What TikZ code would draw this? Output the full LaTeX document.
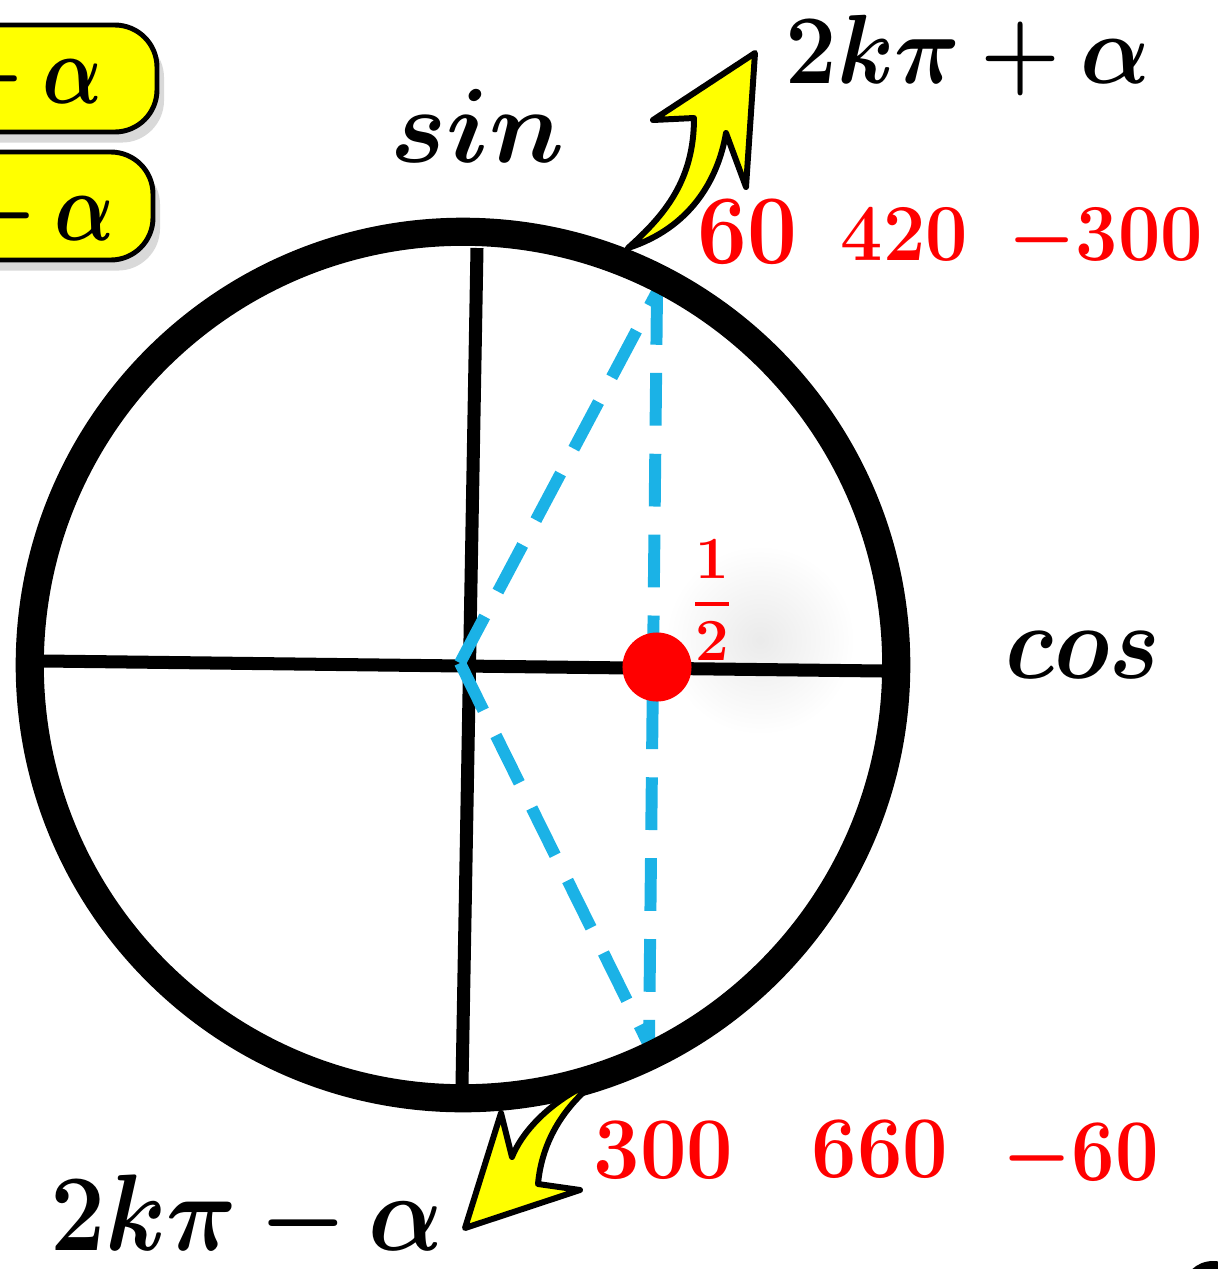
\RequirePackage{fix-cm}
\documentclass[tikz,border=0pt]{standalone}
\usepackage{amsmath}
\usepackage{bm}
\usepackage{graphicx}
\usetikzlibrary{shadows}
\definecolor{cyanline}{RGB}{27,178,230}
\definecolor{ylw}{RGB}{255,255,0}
\begin{document}
\begin{tikzpicture}[x=0.01cm,y=-0.01cm,
  axisline/.style={line width=3.7pt,black},
  ring/.style={line width=8pt,black},
  dashline/.style={line width=3.4pt,cyanline,dash pattern=on 15pt off 8pt},
  yarrow/.style={fill=ylw,draw=black,line width=1.7pt,line join=round},
  ybox/.style={fill=ylw,draw=black,line width=1.4pt,rounded corners=12pt,
    drop shadow={shadow xshift=2pt,shadow yshift=-3pt,opacity=0.15,fill=black}},
  mathlbl/.style={inner sep=0pt,text=black},
  rednum/.style={inner sep=0pt,text=red,anchor=base west}]
\useasboundingbox (0,0) rectangle (1217,1269);
% faint glow
\shade[inner color=black!8,outer color=white] (760,640) circle [radius=0.95cm];
% yellow boxes
\draw[ybox] (-80,25) rectangle (157,132);
\draw[ybox] (-80,152) rectangle (153,260);
\node[mathlbl,anchor=base east,font=\fontsize{28}{30}\selectfont] (boxa) at (103,103) {\scalebox{0.8}[1]{$\bm{{}-\alpha}$}};
\node[mathlbl,anchor=base east,font=\fontsize{28}{30}\selectfont] (boxb) at (115,240) {\scalebox{0.8}[1]{$\bm{{}-\alpha}$}};
% coordinates
\coordinate (O) at (463,665);
\coordinate (ytop) at (477,248);
\coordinate (ybot) at (462,1085);
\coordinate (xl) at (44,661);
\coordinate (xr) at (883,671);
\coordinate (V) at (460,663);
\coordinate (P) at (657,292);
\coordinate (Q) at (649,1045);
% axes
\draw[axisline] (xl) -- (xr);
\draw[axisline] (ytop) -- (ybot);
% blue dashed triangle
\draw[dashline] (V) -- (P);
\draw[dashline] (P) -- (Q);
\draw[dashline] (V) -- (Q);
% ring
\draw[ring] (O) circle [radius=4.33cm];
% red dot
\node[circle,fill=red,minimum size=0.69cm,inner sep=0pt] (dot) at (657,667) {};
\node[text=red,inner sep=0pt,font=\fontsize{17}{19}\selectfont] (half) at (712,600) {$\genfrac{}{}{1.1pt}{0}{\mathbf{1}}{\mathbf{2}}$};
% yellow arrows
\draw[yarrow] (628,248) .. controls (665,215) and (694,180) .. (694,118) -- (653,120) -- (755,53) -- (746,187) -- (726,133) .. controls (718,180) and (690,228) .. (628,248) -- cycle;
\draw[yarrow] (598,1080) .. controls (560,1095) and (525,1125) .. (512,1157) -- (501,1113) -- (465,1228) -- (580,1190) -- (538,1184) .. controls (542,1140) and (565,1105) .. (598,1080) -- cycle;
% labels
\node[mathlbl,anchor=base west,font=\fontsize{28}{30}\selectfont] (kplus) at (785,83) {\scalebox{0.93}[1]{$\bm{2k\pi+\alpha}$}};
\node[mathlbl,anchor=base west,font=\fontsize{30}{32}\selectfont] (sinlbl) at (390,162) {$\bm{sin}$};
\node[mathlbl,anchor=base west,font=\fontsize{30}{32}\selectfont] (coslbl) at (1005,678) {\scalebox{0.9}[1]{$\bm{cos}$}};
\node[mathlbl,anchor=base west,font=\fontsize{31}{33}\selectfont] (kminus) at (50,1250) {\scalebox{0.9}[1]{$\bm{2k\pi-\alpha}$}};
% red numbers
\node[rednum,font=\fontsize{28}{30}\selectfont\bfseries] (n60) at (697,263) {\scalebox{0.9}[1]{60}};
\node[rednum,font=\fontsize{23}{25}\selectfont\bfseries] (n420) at (840,260) {\scalebox{0.93}[1]{420}};
\node[rednum,font=\fontsize{23}{25}\selectfont\bfseries] (nm300) at (1008,260) {\scalebox{0.93}[1]{$\bm{-}$300}};
\node[rednum,font=\fontsize{25}{27}\selectfont\bfseries] (n300) at (593,1178) {\scalebox{0.94}[1]{300}};
\node[rednum,font=\fontsize{25}{27}\selectfont\bfseries] (n660) at (811,1177) {\scalebox{0.92}[1]{660}};
\node[rednum,font=\fontsize{25}{27}\selectfont\bfseries] (nm60) at (1002,1180) {\scalebox{0.88}[1]{$\bm{-}$60}};
% partial glyph at corner
\fill[black] (1213,1290) ellipse [x radius=0.3cm,y radius=0.29cm];
\end{tikzpicture}
\end{document}
